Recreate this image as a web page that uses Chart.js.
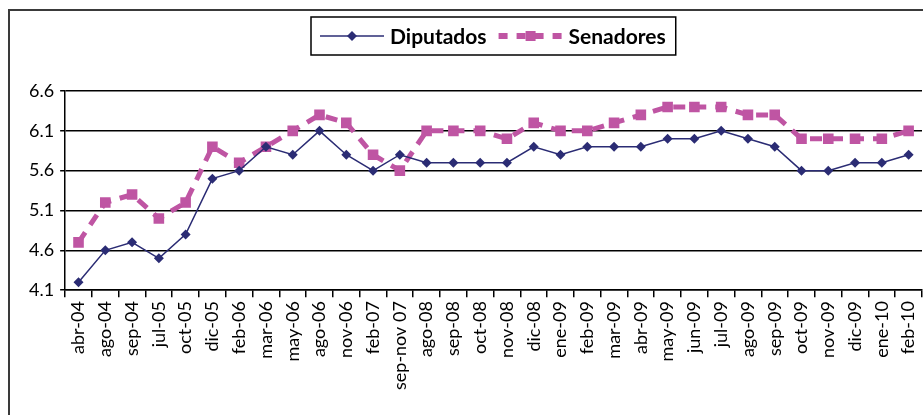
<!DOCTYPE html>
<html>
<head>
<meta charset="utf-8">
<script src="https://cdn.jsdelivr.net/npm/chart.js@4"></script>
<style>
html,body{margin:0;padding:0;background:#fff;}
#wrap{width:923px;height:415px;position:relative;}
</style>
</head>
<body>
<div id="wrap"><canvas id="c" width="923" height="415"></canvas></div>
<script>
const categories = ["abr-04","ago-04","sep-04","jul-05","oct-05","dic-05","feb-06","mar-06","may-06","ago-06","nov-06","feb-07","sep-nov 07","ago-08","sep-08","oct-08","nov-08","dic-08","ene-09","feb-09","mar-09","abr-09","may-09","jun-09","jul-09","ago-09","sep-09","oct-09","nov-09","dic-09","ene-10","feb-10"];
const diputados = [4.2,4.6,4.7,4.5,4.8,5.5,5.6,5.9,5.8,6.1,5.8,5.6,5.8,5.7,5.7,5.7,5.7,5.9,5.8,5.9,5.9,5.9,6.0,6.0,6.1,6.0,5.9,5.6,5.6,5.7,5.7,5.8];
const senadores = [4.7,5.2,5.3,5.0,5.2,5.9,5.7,5.9,6.1,6.3,6.2,5.8,5.6,6.1,6.1,6.1,6.0,6.2,6.1,6.1,6.2,6.3,6.4,6.4,6.4,6.3,6.3,6.0,6.0,6.0,6.0,6.1];
const yTicks = [4.1,4.6,5.1,5.6,6.1,6.6];

const NAVY = '#2b2c74';
const PINK = '#bf55a3';
const FONT = 'Lato, "Open Sans", "DejaVu Sans", sans-serif';

const frame = {
  id:'frame',
  beforeDraw(chart){
    const ctx = chart.ctx;
    ctx.save();
    ctx.fillStyle='#fff';
    ctx.fillRect(0,0,chart.width,chart.height);
    ctx.strokeStyle='#3a3a3a';
    ctx.lineWidth=2;
    ctx.strokeRect(9,10,1000,600);
    ctx.restore();
  }
};

const legendBox = {
  id:'legendBox',
  afterDraw(chart){
    const ctx = chart.ctx;
    const ds = chart.data.datasets;
    ctx.save();
    ctx.font = 'bold 21px ' + FONT;
    const w1 = ctx.measureText(ds[0].label).width;
    const w2 = ctx.measureText(ds[1].label).width;
    const sample = 64, gap1 = 6, gap2 = 12;
    const total = 9 + sample + gap1 + w1 + gap2 + sample + gap1 + w2 + 10;
    const ca = chart.chartArea;
    const cx = (ca.left + ca.right)/2;
    const x0 = Math.round(cx - total/2), y0 = 17, h = 38;
    const cy = y0 + h/2;
    ctx.strokeStyle='#000'; ctx.lineWidth=1.5;
    ctx.strokeRect(x0, y0, total, h);
    let x = x0 + 9;
    ctx.strokeStyle=NAVY; ctx.lineWidth=1.5;
    ctx.beginPath(); ctx.moveTo(x,cy); ctx.lineTo(x+sample,cy); ctx.stroke();
    ctx.fillStyle=NAVY;
    ctx.beginPath();
    const mx = x+sample/2, r=5;
    ctx.moveTo(mx,cy-r); ctx.lineTo(mx+r,cy); ctx.lineTo(mx,cy+r); ctx.lineTo(mx-r,cy); ctx.closePath(); ctx.fill();
    x += sample + gap1;
    ctx.fillStyle='#000'; ctx.textBaseline='middle'; ctx.textAlign='left';
    ctx.fillText(ds[0].label, x, cy+1);
    x += w1 + gap2;
    ctx.strokeStyle=PINK; ctx.lineWidth=6;
    ctx.setLineDash([9,9]);
    ctx.beginPath(); ctx.moveTo(x,cy); ctx.lineTo(x+sample,cy); ctx.stroke();
    ctx.setLineDash([]);
    ctx.fillStyle=PINK;
    ctx.fillRect(x+sample/2-5, cy-5, 10, 10);
    x += sample + gap1;
    ctx.fillStyle='#000';
    ctx.fillText(ds[1].label, x, cy+1);
    ctx.restore();
  }
};

new Chart(document.getElementById('c'), {
  type:'line',
  data:{
    labels: categories,
    datasets:[
      {label:'Diputados', data: diputados, borderColor: NAVY, backgroundColor: NAVY, borderWidth:1.5,
       pointStyle:'rectRot', pointRadius:5, pointBorderWidth:0, pointBackgroundColor: NAVY, tension:0, order:1},
      {label:'Senadores', data: senadores, borderColor: PINK, backgroundColor: PINK, borderWidth:5,
       borderDash:[12,9], pointStyle:'rect', pointRadius:7.5, pointBorderWidth:0, pointBackgroundColor: PINK, tension:0, order:2}
    ]
  },
  options:{
    responsive:false,
    animation:false,
    devicePixelRatio:1,
    layout:{autoPadding:false, padding:{top:91, left:23, right:1, bottom:21}},
    plugins:{legend:{display:false}, tooltip:{enabled:false}},
    scales:{
      x:{
        offset:true,
        afterFit(scale){ scale.paddingRight = 0; },
        grid:{drawOnChartArea:false, drawTicks:true, tickLength:7, color:'#000', lineWidth:1.5, offset:true},
        border:{display:true, color:'#000', width:1.5},
        ticks:{minRotation:90, maxRotation:90, autoSkip:false, color:'#000', padding:4,
               font:{family:FONT, size:18}}
      },
      y:{
        min:4.1, max:6.6,
        afterBuildTicks(axis){ axis.ticks = yTicks.map(v=>({value:v})); },
        grid:{color:'#000', lineWidth:1.5, drawTicks:true, tickLength:5},
        border:{display:true, color:'#000', width:1.5},
        ticks:{color:'#000', padding:6, font:{family:FONT, size:18}, callback:(v)=>Number(v).toFixed(1)}
      }
    }
  },
  plugins:[frame, legendBox]
});
</script>
</body>
</html>
